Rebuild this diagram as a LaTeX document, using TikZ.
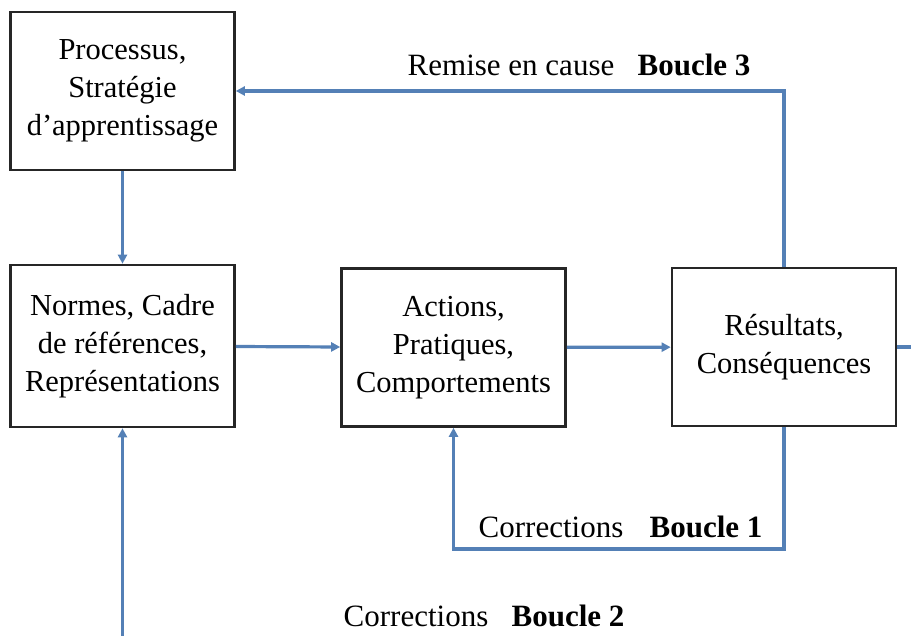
\documentclass[tikz,border=0pt]{standalone}
\usepackage{fontspec}
\setmainfont{Liberation Serif}
\usetikzlibrary{arrows.meta}
\definecolor{loopblue}{RGB}{84,128,182}
\begin{document}
\begin{tikzpicture}[x=1pt,y=-1pt,
  box/.style={draw=black!85,line width=2.6pt,fill=white,minimum width=224pt,minimum height=158pt,align=center,inner sep=0pt,
    font=\fontsize{30.5}{38}\selectfont},
  conn/.style={draw=loopblue,line width=3.2pt,-{Triangle[length=9pt,width=9pt]}},
  plain/.style={draw=loopblue,line width=3.2pt},
  lbl/.style={anchor=base,inner sep=0pt,font=\fontsize{31}{36}\selectfont}]
\path[use as bounding box,fill=white] (0,0) rectangle (911,636);
\node[box] (P) at (122.5,91) {Processus,\\Stratégie\\d’apprentissage};
\node[box,minimum height=162pt] (N) at (122.5,346) {Normes, Cadre\\de références,\\Représentations};
\node[box] (A) at (453.5,347.5) {Actions,\\Pratiques,\\Comportements};
\node[box] (R) at (784,347) {Résultats,\\Conséquences};
\coordinate (Rout) at (911,347);
\coordinate (B1) at (784,549);
\coordinate (B2) at (122.5,636);
\draw[conn] (P) -- (N);
\draw[conn] (N) -- (A);
\draw[conn] (A) -- (R);
\draw[plain] (R.east) -- (Rout);
\draw[conn] (R.north) |- (P.east);
\draw[conn] (R.south) -- (B1) -| (A.south);
\draw[conn] (B2) -- (N.south);
\node[lbl] (t3a) at (511,76) {Remise en cause};
\node[lbl] (t3b) at (694,76) {\textbf{Boucle 3}};
\node[lbl] (t1a) at (551,537) {Corrections};
\node[lbl] (t1b) at (706,537) {\textbf{Boucle 1}};
\node[lbl] (t2a) at (416,626) {Corrections};
\node[lbl] (t2b) at (568,626) {\textbf{Boucle 2}};
\end{tikzpicture}
\end{document}
